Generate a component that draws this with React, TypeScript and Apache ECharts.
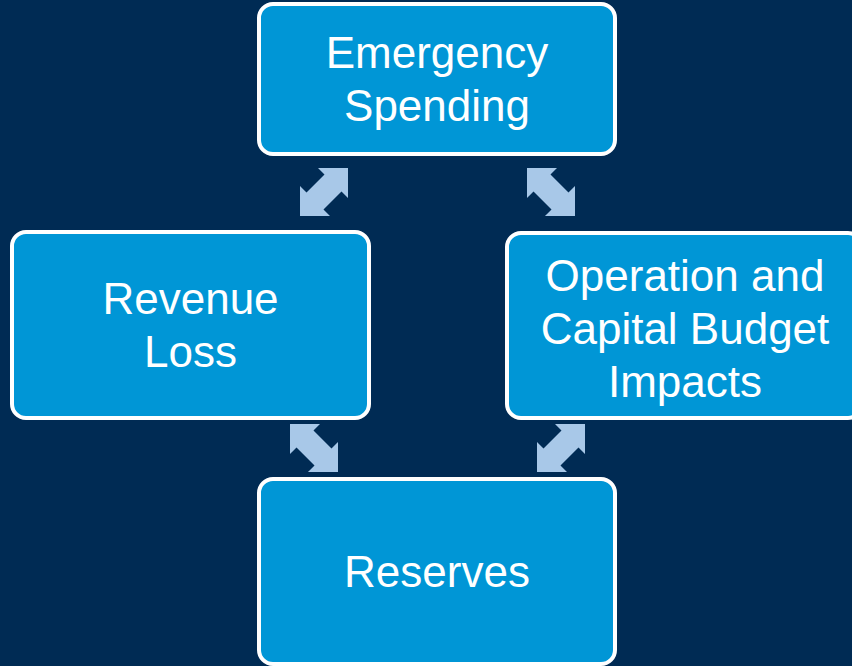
import React, { useEffect, useRef } from "react";
import * as echarts from "echarts";

// Diagram content
const boxLabels: string[] = [
  "Emergency\nSpending",
  "Revenue\nLoss",
  "Operation and\nCapital Budget\nImpacts",
  "Reserves",
];
// arrow orientation: "ne" = NE-SW diagonal, "nw" = NW-SE diagonal
const arrowKinds: string[] = ["ne", "nw", "nw", "ne"];

// Layout (outer bounds of each box: x0, y0, x1, y1)
const boxLayout: number[][] = [
  [257, 2, 617, 156],
  [10, 230, 371, 420],
  [505, 231, 864, 420],
  [257, 477, 617, 666],
];
// arrow top-left positions
const arrowLayout: number[][] = [
  [300, 168],
  [527, 168],
  [290, 424],
  [537, 424],
];

const BG = "#002B54";
const BOX_FILL = "#0096D6";
const ARROW_FILL = "#A8C8E8";

function arrowPoints(kind: string): number[][] {
  const S = 48;
  const L = 30;
  const s = 12;
  const k = s / Math.SQRT2;
  const m1 = [S - L / 2, L / 2];
  const m2 = [L / 2, S - L / 2];
  const pts = [
    [S - L, 0],
    [S, 0],
    [S, L],
    [m1[0] + k, m1[1] + k],
    [m2[0] + k, m2[1] + k],
    [L, S],
    [0, S],
    [0, S - L],
    [m2[0] - k, m2[1] - k],
    [m1[0] - k, m1[1] - k],
  ];
  if (kind === "nw") return pts.map(([x, y]) => [S - x, y]);
  return pts;
}

export default function App() {
  const ref = useRef<HTMLDivElement>(null);
  useEffect(() => {
    if (!ref.current) return;
    const chart = echarts.init(ref.current, undefined, { renderer: "svg" });
    const elements: any[] = [];
    boxLabels.forEach((label, i) => {
      const [x0, y0, x1, y1] = boxLayout[i];
      elements.push({
        type: "rect",
        shape: { x: x0 + 2, y: y0 + 2, width: x1 - x0 - 4, height: y1 - y0 - 4, r: 14 },
        style: { fill: BOX_FILL, stroke: "#FFFFFF", lineWidth: 4 },
      });
      elements.push({
        type: "text",
        x: i === 2 ? 685 : (x0 + x1) / 2,
        y: (y0 + y1) / 2 + (i === 2 ? 3 : 0),
        style: {
          text: label,
          align: "center",
          verticalAlign: "middle",
          fill: "#FFFFFF",
          fontSize: 44,
          fontFamily: "Liberation Sans",
          lineHeight: 53,
        },
      });
    });
    arrowKinds.forEach((kind, i) => {
      const [ax, ay] = arrowLayout[i];
      elements.push({
        type: "polygon",
        x: ax,
        y: ay,
        shape: { points: arrowPoints(kind) },
        style: { fill: ARROW_FILL },
      });
    });
    chart.setOption({
      animation: false,
      backgroundColor: BG,
      graphic: { elements },
    });
    return () => chart.dispose();
  }, []);
  return (
    <div
      ref={ref}
      style={{ position: "fixed", left: 0, top: 0, width: 852, height: 666 }}
    />
  );
}
